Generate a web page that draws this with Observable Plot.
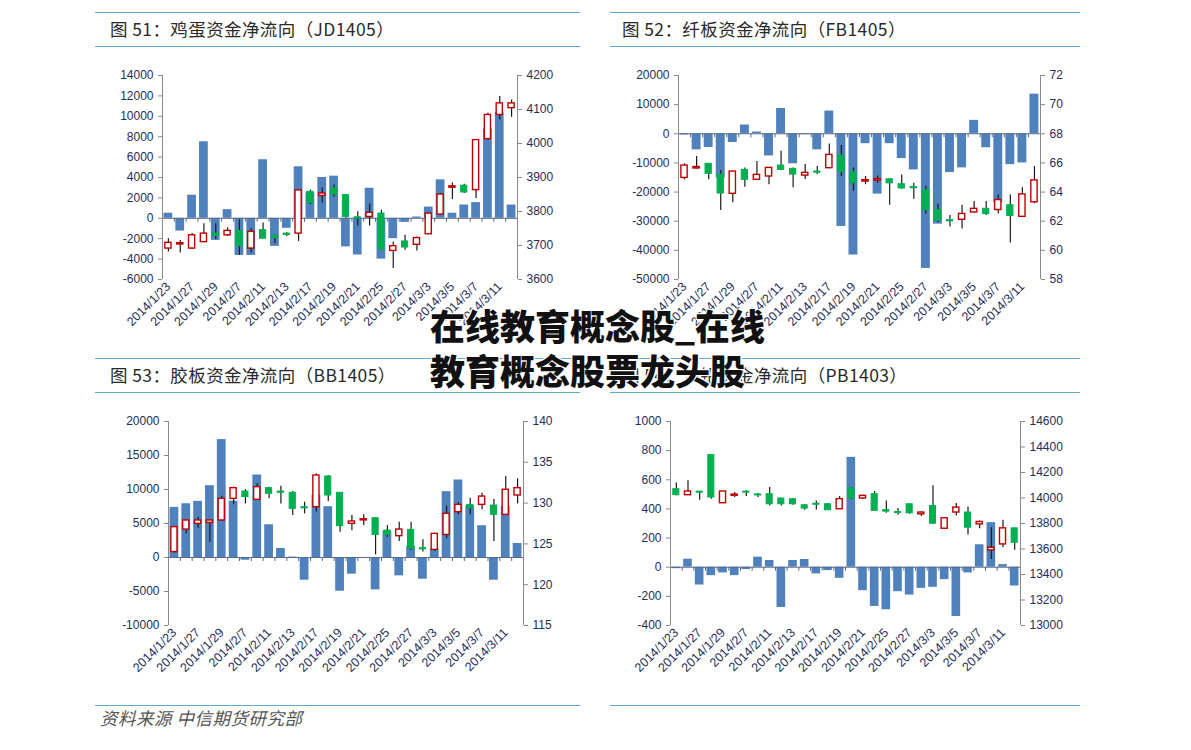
<!DOCTYPE html>
<html><head><meta charset="utf-8">
<script src="https://cdn.jsdelivr.net/npm/d3@7"></script>
<script src="https://cdn.jsdelivr.net/npm/@observablehq/plot@0.6"></script>
<style>
body{margin:0;background:#fff;}
#root{position:relative;width:1191px;height:750px;overflow:hidden;background:#fff;font-family:"Noto Sans CJK SC","Noto Sans",sans-serif;}
.hl{position:absolute;height:0;border-top:1.5px solid #5aa9cf;}
.title{position:absolute;font-size:17.5px;color:#2a2a2a;white-space:nowrap;line-height:20px;letter-spacing:0.4px;}
.panel{position:absolute;}
.panel svg{position:absolute;left:0;top:0;overflow:visible;}
.foot{position:absolute;font-size:17.5px;font-style:italic;color:#555;white-space:nowrap;line-height:24px;letter-spacing:0.5px;}
.ov{position:absolute;font-size:35px;font-weight:900;color:#111;white-space:nowrap;line-height:40px;
text-shadow:0 0 2px #fff,1px 1px 0 #fff,-1px -1px 0 #fff,1px -1px 0 #fff,-1px 1px 0 #fff;}
</style></head>
<body><div id="root"></div>
<script>
// ---- categories ----
const dates = ["2014/1/23","2014/1/24","2014/1/27","2014/1/28","2014/1/29","2014/1/30","2014/2/7","2014/2/10","2014/2/11","2014/2/12","2014/2/13","2014/2/14","2014/2/17","2014/2/18","2014/2/19","2014/2/20","2014/2/21","2014/2/24","2014/2/25","2014/2/26","2014/2/27","2014/2/28","2014/3/3","2014/3/4","2014/3/5","2014/3/6","2014/3/7","2014/3/10","2014/3/11","2014/3/12"];
const dateLabels = ["2014/1/23","2014/1/27","2014/1/29","2014/2/7","2014/2/11","2014/2/13","2014/2/17","2014/2/19","2014/2/21","2014/2/25","2014/2/27","2014/3/3","2014/3/5","2014/3/7","2014/3/11"];

// ---- 图51 JD1405 ----
const jdFlow  = [500,-1250,2260,7500,-2160,850,-3640,-3640,5740,-2750,-980,5050,2500,4000,4130,-2800,-3600,2950,-4000,-2000,-400,130,1100,3770,500,1300,1540,8750,10400,1300];
const jdOpen  = [3691,3703,3691,3710,3735,3730,3743,3691,3745,3728,3735,3735,3858,3846,3868,3848,3783,3784,3794,3684,3712,3702,3733,3791,3870,3876,3863,4013,4084,4104];
const jdHigh  = [3720,3715,3735,3764,3764,3752,3776,3750,3766,3730,3738,3862,3863,3870,3878,3850,3799,3822,3804,3710,3730,3725,3796,3853,3884,3880,4010,4089,4138,4128];
const jdLow   = [3681,3678,3689,3710,3717,3727,3671,3678,3720,3705,3726,3712,3820,3825,3843,3780,3757,3757,3686,3632,3686,3684,3733,3789,3835,3853,3838,4010,4069,4077];
const jdClose = [3708,3707,3730,3735,3728,3743,3698,3740,3720,3722,3731,3862,3825,3853,3850,3784,3779,3796,3688,3698,3694,3722,3794,3850,3874,3856,4010,4084,4118,4118];
const jdLeftTicks  = [-6000,-4000,-2000,0,2000,4000,6000,8000,10000,12000,14000];
const jdRightTicks = [3600,3700,3800,3900,4000,4100,4200];

// ---- 图52 FB1405 ----
const fbFlow  = [-400,-5500,-4700,-15200,-3000,3000,600,-7600,8700,-10300,-300,-5500,7800,-31800,-41600,-3400,-20700,-3400,-8500,-12400,-46200,-31000,-13300,-11700,4600,-4800,-23700,-10600,-10000,13600];
const fbOpen  = [64.97,65.62,65.94,65.2,63.88,65.52,64.84,65.07,65.82,65.59,65.13,65.41,65.64,66.5,65.36,64.72,64.79,64.88,64.54,64.34,64.13,62.76,62.07,62.1,62.6,62.85,62.77,63.1,62.3,63.3];
const fbHigh  = [65.94,66.44,65.94,65.48,65.41,65.66,66.1,65.66,66.8,65.66,65.9,65.75,67.3,67.2,65.66,65.07,65.1,64.88,65.18,64.6,64.4,63.16,62.4,63.1,63.36,63.36,63.8,63.8,64.3,65.75];
const fbLow   = [64.84,65.58,64.84,62.73,63.26,64.33,64.79,64.5,65.48,64.29,64.86,65.2,65.6,65.07,64.06,64.5,64.6,63.1,64.2,63.5,62.5,61.9,61.6,61.46,62.55,62.4,62.5,60.5,62.27,63.2];
const fbClose = [65.82,65.72,65.25,63.9,65.41,64.84,65.18,65.66,65.52,65.2,65.32,65.33,66.55,65.36,64.6,64.82,64.89,64.6,64.25,64.26,62.76,62.03,61.99,62.5,62.85,62.5,63.45,62.36,63.84,64.8];
const fbLeftTicks  = [-50000,-40000,-30000,-20000,-10000,0,10000,20000];
const fbRightTicks = [58,60,62,64,66,68,70,72];

// ---- 图53 BB1405 ----
const bbFlow  = [7370,7900,8250,10560,17340,8300,-400,12130,4810,1330,60,-3340,9180,7470,-4960,-2450,-150,-4760,3880,-2700,1620,-3190,1230,9680,11400,7600,4670,-3340,7500,2060];
const bbOpen  = [124.0,126.76,127.46,127.58,127.87,130.52,131.42,130.4,131.83,131.42,131.26,129.5,129.5,133.26,131.26,127.46,127.88,128.15,126.64,125.95,126.72,124.47,124.27,126.1,128.89,129.78,129.78,129.7,128.56,130.93];
const bbHigh  = [127.05,127.87,128.28,127.87,130.85,131.95,131.67,132.36,131.95,132.07,131.42,130.11,133.59,133.38,131.26,128.48,128.56,128.15,127.25,127.66,127.66,125.5,126.3,129.62,130.03,130.6,131.2,130.44,133.26,132.97];
const bbLow   = [123.9,126.23,126.93,125.2,127.75,129.8,129.9,130.4,130.52,129.9,128.48,128.68,128.89,130.2,126.44,126.6,127.25,123.66,125.8,125.3,124.2,124.0,124.07,125.62,128.56,128.56,129.2,125.3,128.48,129.9];
const bbClose = [127.05,127.87,127.87,127.87,130.52,131.83,130.73,131.95,131.14,131.26,129.3,129.35,133.38,130.93,127.17,127.75,128.02,126.1,126.1,126.76,124.4,124.33,126.23,128.68,129.78,129.38,130.8,128.56,131.63,131.83];
const bbLeftTicks  = [-10000,-5000,0,5000,10000,15000,20000];
const bbRightTicks = [115,120,125,130,135,140];

// ---- 图54 PB1403 ----
const pbFlow  = [-10,55,-122,-58,-39,-58,-16,69,46,-276,46,53,-46,-23,-76,754,-161,-269,-292,-168,-191,-145,-138,-85,-338,-39,154,306,18,-129];
const pbOpen  = [14069,14022,14050,14337,13959,14017,14050,14028,14030,13996,13990,13943,13955,13951,13912,14075,13996,14030,13905,13890,13951,13872,13938,13759,13886,13886,13793,13589,13636,13762];
const pbHigh  = [14117,14135,14050,14337,14051,14043,14056,14035,14083,13996,13996,13946,13977,13956,14012,14083,14022,14051,13977,13917,13951,13891,14096,13846,13956,13930,13820,13767,13825,13762];
const pbLow   = [14017,14022,13983,13991,13959,14004,14012,14004,13938,13938,13943,13904,13906,13904,13912,13991,13991,13899,13880,13865,13872,13854,13793,13759,13859,13709,13759,13518,13610,13591];
const pbClose = [14022,14051,14042,14004,14051,14027,14042,14020,13951,13951,13951,13917,13947,13904,13991,13996,14017,13899,13893,13882,13880,13886,13799,13841,13925,13767,13812,13610,13762,13649];
const pbLeftTicks  = [-400,-200,0,200,400,600,800,1000];
const pbRightTicks = [13000,13200,13400,13600,13800,14000,14200,14400,14600];

// ---- texts ----
const titles = ["图 51：鸡蛋资金净流向（JD1405）","图 52：纤板资金净流向（FB1405）","图 53：胶板资金净流向（BB1405）","图 54：沪铅资金净流向（PB1403）"];
const footText = "资料来源 中信期货研究部";
const overlayLines = ["在线教育概念股_在线","教育概念股票龙头股"];

// ---- styles ----
const BAR = "#4f81bd", GREEN = "#00b050", RED = "#c00000", WICK = "#1a1a1a";
const AXIS = "#8a8a8a", ZERO = "#5a6a8a", TXT = "#1f2d57";
const root = document.getElementById("root");

function hline(x0, x1, y) {
  const d = document.createElement("div");
  d.className = "hl";
  d.style.left = x0 + "px"; d.style.top = y + "px"; d.style.width = (x1 - x0) + "px";
  root.appendChild(d);
}
function label(cls, text, x, y) {
  const d = document.createElement("div");
  d.className = cls; d.textContent = text;
  d.style.left = x + "px"; d.style.top = y + "px";
  root.appendChild(d);
}

function drawPanel(cfg) {
  const ml = 80, mr = 80, mt = 20, mb = 90;
  const pw = cfg.x1 - cfg.x0, ph = cfg.y1 - cfg.y0;
  const W = pw + ml + mr, H = ph + mt + mb;
  const n = dates.length, step = pw / n;
  const rows = dates.map((d, i) => ({date: d, flow: cfg.flow[i], open: cfg.open[i], high: cfg.high[i], low: cfg.low[i], close: cfg.close[i]}));
  const ly = [cfg.leftTicks[0], cfg.leftTicks[cfg.leftTicks.length - 1]];
  const ry = [cfg.rightTicks[0], cfg.rightTicks[cfg.rightTicks.length - 1]];
  const tickLen = (ly[1] - ly[0]) / ph * 4;
  const last = dates[n - 1];
  const common = {width: W, height: H, marginLeft: ml, marginRight: mr, marginTop: mt, marginBottom: mb,
    style: {background: "transparent", fontFamily: "'Liberation Sans', Arial, sans-serif", fontSize: "12px", color: TXT, overflow: "visible"}};
  const A = Plot.plot({
    ...common,
    x: {type: "band", domain: dates, paddingInner: 0.26, paddingOuter: 0.13, round: false, label: null},
    y: {domain: ly, label: null},
    marks: [
      Plot.barY(rows, {x: "date", y: "flow", fill: BAR}),
      Plot.ruleY([0], {stroke: ZERO, strokeWidth: 1}),
      Plot.ruleX(dates, {x: d => d, y1: 0, y2: -tickLen, dx: -step / 2, stroke: ZERO}),
      Plot.ruleX([last], {x: d => d, y1: 0, y2: -tickLen, dx: step / 2, stroke: ZERO}),
      Plot.ruleX([dates[0]], {x: d => d, y1: ly[0], y2: ly[1], dx: -step / 2, stroke: AXIS}),
      Plot.axisY({ticks: cfg.leftTicks, tickFormat: d => String(d), tickSize: 4, tickPadding: 5, stroke: AXIS, fill: TXT, fontSize: 12, label: null}),
      Plot.axisX({ticks: dateLabels, tickSize: 0, tickRotate: -45, tickPadding: 5, fill: TXT, fontSize: 12.5, label: null})
    ]
  });
  const B = Plot.plot({
    ...common,
    x: {type: "band", domain: dates, paddingInner: 0.48, paddingOuter: 0.24, round: false, axis: null, label: null},
    y: {domain: ry, label: null},
    marks: [
      Plot.ruleX(rows, {x: "date", y1: "low", y2: "high", stroke: WICK, strokeWidth: 1.2}),
      Plot.barY(rows.filter(d => d.close >= d.open), {x: "date", y1: "open", y2: "close", fill: "#fff", stroke: RED, strokeWidth: 1.4}),
      Plot.barY(rows.filter(d => d.close < d.open), {x: "date", y1: "close", y2: "open", fill: GREEN, stroke: GREEN, strokeWidth: 1}),
      Plot.ruleX([last], {x: d => d, y1: ry[0], y2: ry[1], dx: step / 2, stroke: AXIS}),
      Plot.axisY({anchor: "right", ticks: cfg.rightTicks, tickFormat: d => String(d), tickSize: 4, tickPadding: 5, stroke: AXIS, fill: TXT, fontSize: 12, label: null})
    ]
  });
  const p = document.createElement("div");
  p.className = "panel";
  p.style.left = (cfg.x0 - ml) + "px"; p.style.top = (cfg.y0 - mt) + "px";
  p.style.width = W + "px"; p.style.height = H + "px";
  p.appendChild(A); p.appendChild(B);
  root.appendChild(p);
}

// frame lines & titles
hline(95, 580, 12); hline(95, 580, 46);
hline(610, 1080, 12); hline(610, 1080, 46);
hline(95, 580, 358); hline(95, 580, 392);
hline(610, 1080, 358); hline(610, 1080, 392);
hline(95, 580, 705); hline(610, 1080, 705);
label("title", titles[0], 110, 19);
label("title", titles[1], 622, 19);
label("title", titles[2], 110, 365);
label("title", titles[3], 622, 365);

drawPanel({x0: 162, x1: 517, y0: 75, y1: 279, flow: jdFlow, open: jdOpen, high: jdHigh, low: jdLow, close: jdClose, leftTicks: jdLeftTicks, rightTicks: jdRightTicks});
drawPanel({x0: 678, x1: 1040, y0: 75, y1: 279, flow: fbFlow, open: fbOpen, high: fbHigh, low: fbLow, close: fbClose, leftTicks: fbLeftTicks, rightTicks: fbRightTicks});
drawPanel({x0: 168, x1: 523, y0: 421, y1: 625, flow: bbFlow, open: bbOpen, high: bbHigh, low: bbLow, close: bbClose, leftTicks: bbLeftTicks, rightTicks: bbRightTicks});
drawPanel({x0: 670, x1: 1020, y0: 421, y1: 625, flow: pbFlow, open: pbOpen, high: pbHigh, low: pbLow, close: pbClose, leftTicks: pbLeftTicks, rightTicks: pbRightTicks});

label("foot", footText, 100, 706);
label("ov", overlayLines[0], 430, 305);
label("ov", overlayLines[1], 430, 350);
</script>
</body></html>
